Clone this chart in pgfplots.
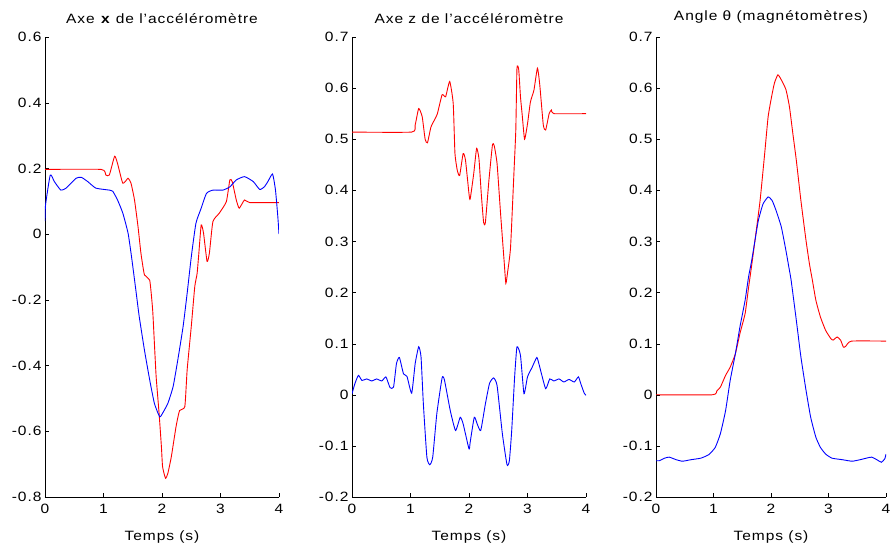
\documentclass[border=0pt]{standalone}
\usepackage{fontspec}
\setmainfont{Liberation Sans}[FakeStretch=1.15, LetterSpace=7]
\usepackage{pgfplots}
\pgfplotsset{compat=1.18}

\newcommand{\chartfont}{\fontsize{13.5}{16}\selectfont}

\pgfplotsset{
  capteur/.style={
    scale only axis, width=234pt, height=460pt,
    xmin=0, xmax=4, xtick={0,1,2,3,4},
    axis x line*=bottom, axis y line*=left,
    axis line style={-, black},
    tick align=inside, major tick length=4pt,
    tick style={black},
    tick label style={font=\chartfont},
    xticklabel style={yshift=-4pt},
    label style={font=\chartfont},
    title style={font=\chartfont, yshift=4pt},
    /pgf/number format/assume math mode=true,
    yticklabel style={/pgf/number format/fixed, /pgf/number format/precision=1},
    xlabel={Temps (s)},
    xlabel style={yshift=-10pt},
    every axis plot/.append style={line width=0.9pt, no marks, smooth, tension=0.3},
  },
}

\begin{document}
\begin{tikzpicture}
\useasboundingbox (0pt,0pt) rectangle (892pt,544pt);

% accelerometre, axe x
\begin{axis}[capteur, at={(45pt,47pt)}, anchor=south west,
  ymin=-0.8, ymax=0.6, ytick={-0.8,-0.6,-0.4,-0.2,0,0.2,0.4,0.6},
  title={Axe \textbf{x} de l'accéléromètre}]
\addplot[red] coordinates {
(0,0.197) (0.96,0.197) (1.04,0.18) (1.10,0.18) (1.19,0.237) (1.24,0.215)
(1.33,0.155) (1.42,0.17) (1.47,0.155) (1.53,0.104) (1.59,0.023) (1.64,-0.058)
(1.70,-0.124) (1.79,-0.14) (1.84,-0.23) (1.87,-0.332) (1.90,-0.434)
(1.95,-0.545) (1.99,-0.647) (2.01,-0.708) (2.06,-0.743) (2.10,-0.728)
(2.16,-0.677) (2.24,-0.586) (2.30,-0.537) (2.39,-0.525) (2.43,-0.413)
(2.50,-0.282) (2.56,-0.16) (2.60,-0.12) (2.63,-0.058) (2.67,0.028)
(2.71,0.003) (2.77,-0.083) (2.81,-0.058) (2.87,0.038) (2.98,0.064)
(3.10,0.099) (3.16,0.165) (3.20,0.16) (3.27,0.104) (3.32,0.079)
(3.41,0.104) (3.50,0.096) (4.0,0.096)
};
\addplot[blue] coordinates {
(0,0.04) (0.01,0.09) (0.09,0.18) (0.16,0.16) (0.27,0.134) (0.36,0.14)
(0.53,0.17) (0.62,0.173) (0.73,0.16) (0.87,0.14) (1.10,0.134) (1.16,0.13)
(1.24,0.104) (1.33,0.064) (1.42,0.003) (1.48,-0.07) (1.56,-0.18)
(1.61,-0.25) (1.70,-0.353) (1.79,-0.444) (1.87,-0.515) (1.96,-0.556)
(2.01,-0.545) (2.10,-0.515) (2.19,-0.464) (2.27,-0.383) (2.36,-0.282)
(2.43,-0.18) (2.50,-0.07) (2.58,0.033) (2.67,0.079) (2.76,0.124)
(2.87,0.134) (3.04,0.134) (3.16,0.144) (3.27,0.165) (3.41,0.175)
(3.56,0.16) (3.67,0.136) (3.75,0.144) (3.81,0.16) (3.89,0.183)
(3.94,0.134) (3.98,0.053) (4.0,0.0)
};
\end{axis}

% accelerometre, axe z
\begin{axis}[capteur, at={(352pt,47pt)}, anchor=south west,
  ymin=-0.2, ymax=0.7, ytick={-0.2,-0.1,0,0.1,0.2,0.3,0.4,0.5,0.6,0.7},
  title={Axe z de l'accéléromètre}]
\addplot[red] coordinates {
(0,0.514) (1.02,0.514) (1.08,0.528) (1.14,0.56) (1.20,0.544) (1.25,0.50)
(1.29,0.493) (1.35,0.524) (1.42,0.54) (1.46,0.55) (1.54,0.587) (1.60,0.583)
(1.67,0.613) (1.73,0.57) (1.76,0.472) (1.80,0.439) (1.84,0.429)
(1.90,0.472) (1.94,0.459) (2.00,0.393) (2.02,0.383) (2.08,0.432)
(2.13,0.482) (2.17,0.462) (2.21,0.393) (2.25,0.337) (2.28,0.337)
(2.34,0.419) (2.40,0.488) (2.43,0.488) (2.48,0.452) (2.54,0.354)
(2.60,0.262) (2.63,0.218) (2.66,0.24) (2.71,0.288) (2.77,0.439)
(2.80,0.518) (2.82,0.639) (2.85,0.636) (2.88,0.583) (2.91,0.547)
(2.95,0.50) (3.00,0.53) (3.05,0.573) (3.11,0.596) (3.17,0.639)
(3.21,0.606) (3.27,0.528) (3.31,0.518) (3.37,0.55) (3.41,0.557)
(3.45,0.55) (4.0,0.55)
};
\addplot[blue] coordinates {
(0,0.002) (0.05,0.022) (0.11,0.038) (0.17,0.028) (0.25,0.031) (0.34,0.027)
(0.42,0.031) (0.51,0.027) (0.58,0.035) (0.65,0.014) (0.71,0.015)
(0.76,0.061) (0.81,0.073) (0.88,0.041) (0.94,0.036) (1.02,0.003)
(1.08,0.061) (1.14,0.094) (1.18,0.074) (1.22,-0.018) (1.28,-0.122)
(1.33,-0.137) (1.38,-0.122) (1.45,-0.037) (1.54,0.033) (1.58,0.029)
(1.68,-0.031) (1.77,-0.07) (1.85,-0.044) (1.90,-0.057) (2.00,-0.106)
(2.02,-0.093) (2.09,-0.044) (2.14,-0.057) (2.20,-0.07) (2.28,-0.018)
(2.35,0.022) (2.42,0.033) (2.48,0.018) (2.57,-0.076) (2.65,-0.137)
(2.69,-0.129) (2.73,-0.07) (2.78,0.035) (2.82,0.094) (2.88,0.077)
(2.94,0.002) (3.00,0.035) (3.08,0.054) (3.16,0.073) (3.21,0.054)
(3.31,0.012) (3.38,0.031) (3.45,0.027) (3.54,0.031) (3.62,0.025)
(3.71,0.03) (3.80,0.025) (3.87,0.035) (3.91,0.022) (3.97,0.003) (4.0,-0.001)
};
\end{axis}

% magnetometres
\begin{axis}[capteur, at={(656pt,47pt)}, anchor=south west, width=230pt,
  ymin=-0.2, ymax=0.7, ytick={-0.2,-0.1,0,0.1,0.2,0.3,0.4,0.5,0.6,0.7},
  title={Angle θ (magnétomètres)}]
\addplot[red] coordinates {
(0,0) (0.98,0) (1.06,0.008) (1.12,0.015) (1.21,0.038) (1.29,0.054)
(1.38,0.08) (1.46,0.12) (1.55,0.159) (1.61,0.21) (1.66,0.25) (1.72,0.301)
(1.81,0.38) (1.89,0.472) (1.95,0.544) (2.01,0.583) (2.06,0.61)
(2.12,0.626) (2.18,0.616) (2.26,0.597) (2.32,0.564) (2.38,0.511)
(2.44,0.459) (2.52,0.38) (2.61,0.301) (2.67,0.255) (2.72,0.224)
(2.78,0.185) (2.86,0.152) (2.95,0.126) (3.04,0.11) (3.08,0.107)
(3.15,0.113) (3.21,0.107) (3.26,0.093) (3.30,0.095) (3.40,0.105) (4.0,0.105)
};
\addplot[blue] coordinates {
(0,-0.129) (0.06,-0.129) (0.15,-0.124) (0.23,-0.122) (0.35,-0.127)
(0.46,-0.13) (0.61,-0.127) (0.78,-0.124) (0.92,-0.117) (1.03,-0.103)
(1.12,-0.076) (1.21,-0.031) (1.29,0.028) (1.38,0.08) (1.46,0.133)
(1.55,0.185) (1.61,0.231) (1.66,0.26) (1.72,0.301) (1.78,0.341)
(1.86,0.373) (1.95,0.387) (2.02,0.38) (2.09,0.36) (2.18,0.328)
(2.26,0.282) (2.31,0.25) (2.35,0.224) (2.44,0.146) (2.52,0.074)
(2.61,0.008) (2.69,-0.044) (2.78,-0.083) (2.86,-0.103) (2.95,-0.116)
(3.06,-0.124) (3.24,-0.127) (3.41,-0.13) (3.55,-0.127) (3.66,-0.124)
(3.75,-0.122) (3.84,-0.127) (3.92,-0.132) (3.98,-0.125) (4.0,-0.116)
};
\end{axis}
\end{tikzpicture}
\end{document}
